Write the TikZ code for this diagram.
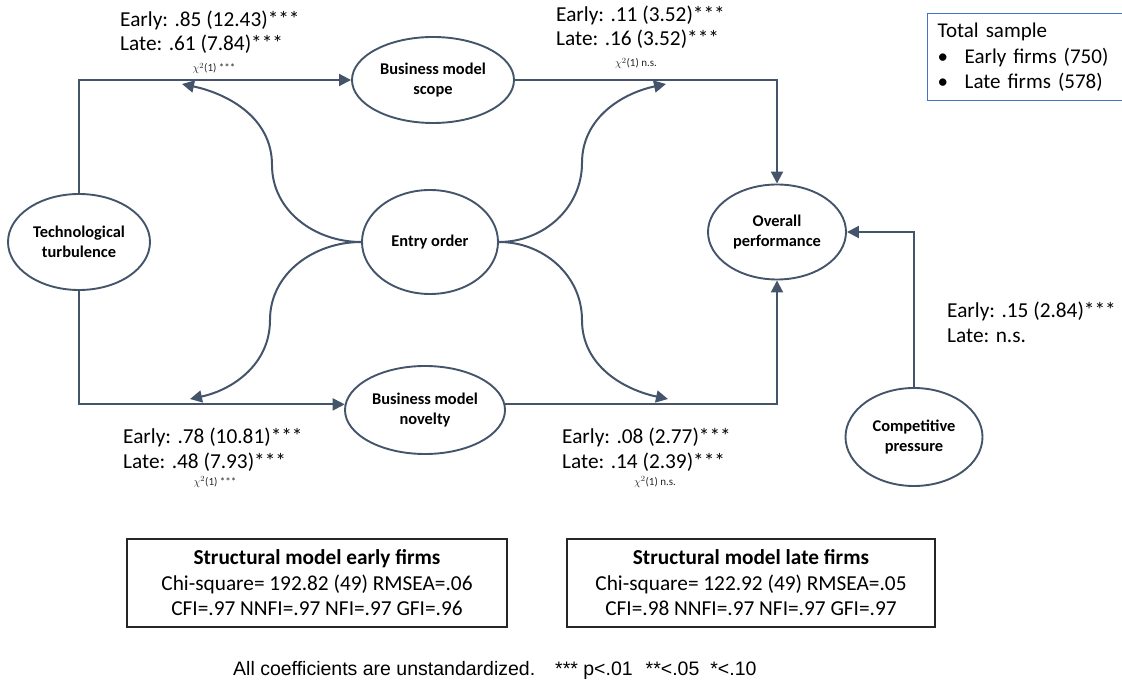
\documentclass[tikz,border=0pt]{standalone}
\usepackage{fontspec}
\setmainfont{Carlito}
\newfontfamily\arialfont{Liberation Sans}
\usetikzlibrary{shapes.geometric,arrows.meta,calc}
\definecolor{ln}{HTML}{44546A}
\definecolor{bx}{HTML}{4472C4}
\newcommand{\bxf}{\fontsize{21.3}{25.5}\selectfont}
\begin{document}
\begin{tikzpicture}[x=1pt,y=1pt,
  lat/.style={ellipse,draw=ln,line width=1.9pt,inner sep=0pt,align=center,font=\fontsize{16.4}{20.5}\selectfont\bfseries},
  con/.style={draw=ln,line width=2pt,-{Triangle[length=12pt,width=12pt]}},
  lbl/.style={anchor=base west,inner sep=0pt,font=\fontsize{21.3}{24}\selectfont},
  chi/.style={anchor=base,inner sep=0pt,font=\fontsize{11}{12}\selectfont,text=black!85},
  fitbox/.style={draw=black!85,line width=1.1pt,minimum width=380pt,minimum height=88pt,inner sep=0pt,align=center,font=\bxf}
]
\useasboundingbox (0,0) rectangle (1122,-684);

% latent variables
\node[lat,minimum width=142pt,minimum height=96pt] (tt) at (79,-242) {Technological\\turbulence};
\node[lat,minimum width=162pt,minimum height=86pt] (bms) at (433,-80) {Business model\\scope};
\node[lat,minimum width=136pt,minimum height=104pt] (eo) at (430,-242) {Entry order};
\node[lat,minimum width=160pt,minimum height=88pt] (nov) at (425,-410) {Business model\\novelty};
\node[lat,minimum width=138pt,minimum height=95pt] (op) at (777,-232) {Overall\\performance};
\node[lat,minimum width=137pt,minimum height=98pt] (cp) at (914,-437) {Competitive\\pressure};

% straight paths
\draw[con] (tt.north) |- (bms.west);
\draw[con] (tt.south) |- (nov.176);
\draw[con] (bms.east) -| (op.north);
\draw[con] (nov.4) -| (op.south);
\draw[con] (cp.north) |- (op.east);

% curved moderation arrows
\coordinate (m1) at (272,-165); \coordinate (t1) at (182,-84);
\coordinate (m2) at (582,-163); \coordinate (t2) at (666,-84);
\coordinate (m3) at (270,-320); \coordinate (t3) at (190,-399);
\coordinate (m4) at (582,-320); \coordinate (t4) at (668,-399);
\draw[con] (eo.west) to[out=180,in=-90] (m1) to[out=90,in=-12] (t1);
\draw[con] (eo.east) to[out=0,in=-90] (m2) to[out=90,in=192] (t2);
\draw[con] (eo.west) to[out=180,in=90] (m3) to[out=-90,in=12] (t3);
\draw[con] (eo.east) to[out=0,in=90] (m4) to[out=-90,in=168] (t4);

% coefficient labels
\node[lbl] (l1a) at (120,-27) {Early: .85 (12.43)***};
\node[lbl] (l1b) at (120,-51) {Late: .61 (7.84)***};
\node[chi] (l1c) at (214,-72) {$\chi^{2}$(1) ***};

\node[lbl] (l2a) at (556,-22) {Early: .11 (3.52)***};
\node[lbl] (l2b) at (556,-46) {Late: .16 (3.52)***};
\node[chi] (l2c) at (636,-67) {$\chi^{2}$(1) n.s.};

\node[lbl] (l3a) at (123,-443) {Early: .78 (10.81)***};
\node[lbl] (l3b) at (123,-468) {Late: .48 (7.93)***};
\node[chi] (l3c) at (215,-485) {$\chi^{2}$(1) ***};

\node[lbl] (l4a) at (562,-443) {Early: .08 (2.77)***};
\node[lbl] (l4b) at (562,-468) {Late: .14 (2.39)***};
\node[chi] (l4c) at (655,-485) {$\chi^{2}$(1) n.s.};

\node[lbl] (l5a) at (947,-318) {Early: .15 (2.84)***};
\node[lbl] (l5b) at (947,-343) {Late: n.s.};

% total sample box
\node[draw=bx,line width=1.4pt,anchor=north west,minimum width=191pt,minimum height=87pt,text width=175pt,inner xsep=10pt,inner ysep=0pt,align=left,font=\fontsize{21}{25.5}\selectfont] (ts) at (927,-13)
  {Total sample\\\makebox[27pt][l]{\textbullet}Early firms (750)\\\makebox[27pt][l]{\textbullet}Late firms (578)};

% fit boxes
\node[fitbox] (fe) at (317,-583) {{\bxf\bfseries Structural model early firms}\\{\bxf Chi-square= 192.82 (49) RMSEA=.06}\\{\bxf CFI=.97 NNFI=.97 NFI=.97 GFI=.96}};
\node[fitbox,minimum width=368pt] (fl) at (751,-583) {{\bxf\bfseries Structural model late firms}\\{\bxf Chi-square= 122.92 (49) RMSEA=.05}\\{\bxf CFI=.98 NNFI=.97 NFI=.97 GFI=.97}};

% footnote
\node[anchor=base west,inner sep=0pt,font=\arialfont\fontsize{19.5}{22}\selectfont] (fn) at (233,-675)
  {All coefficients are unstandardized.\hspace{20pt}*** p<.01\hspace{13pt}**<.05\hspace{11pt}*<.10};
\end{tikzpicture}
\end{document}
